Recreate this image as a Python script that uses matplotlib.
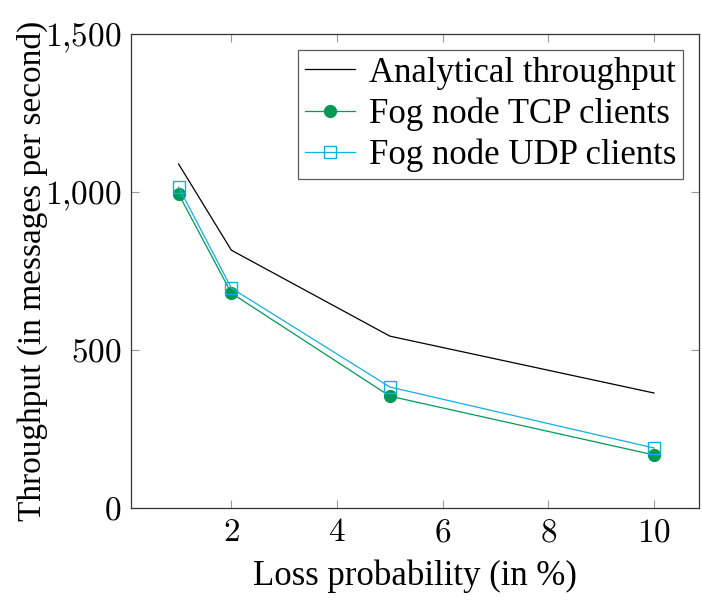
import matplotlib
matplotlib.use("Agg")
import matplotlib.pyplot as plt
from matplotlib.ticker import FuncFormatter

loss = [1, 2, 5, 10]
analytical = [1089, 816, 544, 364]
tcp = [994, 680, 354, 168]
udp = [1016, 696, 383, 190]

GREEN, CYAN = "#009a55", "#12aee8"

plt.rcParams["font.family"] = ["Liberation Serif", "DejaVu Serif"]
plt.rcParams["mathtext.fontset"] = "cm"

fig = plt.figure(figsize=(7.02, 6.03), dpi=100)
ax = fig.add_axes([0.1866, 0.1575, 0.809, 0.786])

ax.plot(loss, analytical, color="black", lw=0.9, label="Analytical throughput")
ax.plot(loss, tcp, color=GREEN, lw=0.9, marker="o", ms=8.5, mfc=GREEN, mec=GREEN,
        label="Fog node TCP clients")
ax.plot(loss, udp, color=CYAN, lw=0.9, marker="s", ms=8.5, mfc="none", mec=CYAN,
        mew=1.0, label="Fog node UDP clients")

ax.set_xlim(0.1, 10.85)
ax.set_ylim(0, 1500)
ax.set_xticks([2, 4, 6, 8, 10])
ax.set_yticks([0, 500, 1000, 1500])
# tick labels in math mode, like pgfplots
ax.xaxis.set_major_formatter(FuncFormatter(lambda v, p: f"${int(v)}$"))
ax.yaxis.set_major_formatter(
    FuncFormatter(lambda v, p: "$" + f"{int(v):,}".replace(",", "{,}") + "$"))
ax.tick_params(direction="in", length=6, width=0.8, color="#999999", labelsize=24,
               top=True, right=True, pad=7)
for s in ax.spines.values():
    s.set_color("#333333"); s.set_linewidth(0.9)

ax.set_xlabel("Loss probability (in %)", fontsize=25, labelpad=8)
ax.set_ylabel("Throughput (in messages per second)", fontsize=24, labelpad=-2)

leg = ax.legend(loc="upper right", fontsize=25, frameon=True, fancybox=False,
                edgecolor="#333333", handlelength=1.45, handletextpad=0.4,
                borderpad=0.2, labelspacing=0.22, borderaxespad=0.45)
leg.get_frame().set_linewidth(0.9)

fig.savefig("out.png", dpi=100)
